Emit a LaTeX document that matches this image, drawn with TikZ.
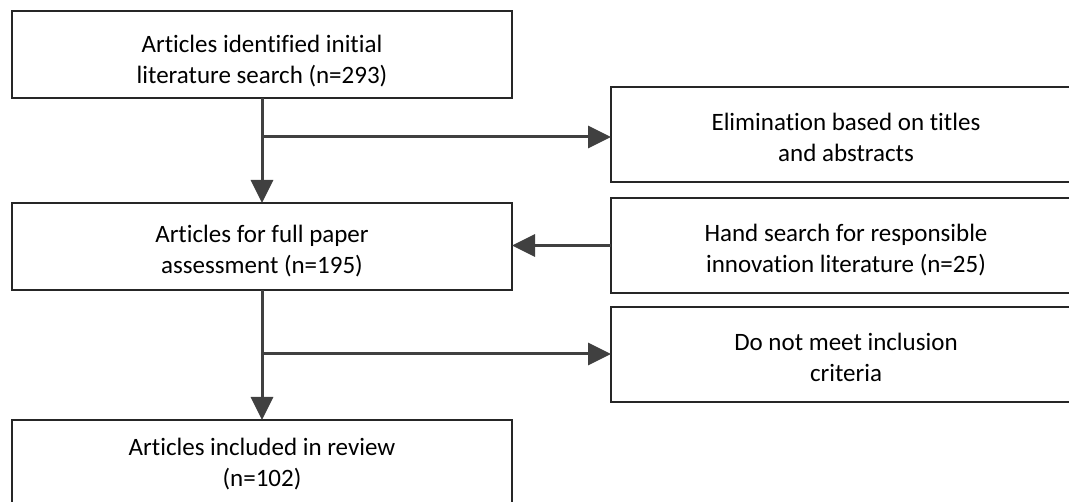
\documentclass[tikz,border=0pt]{standalone}
\usepackage{fontspec}
\setmainfont{Carlito}[Ligatures=NoCommon]
\usetikzlibrary{arrows.meta}
\definecolor{arrowgray}{HTML}{404040}
\definecolor{boxline}{HTML}{262626}
\newcommand{\lowtext}[2]{\raisebox{-#1}[\height][\depth]{\begin{tabular}{@{}c@{}}#2\end{tabular}}}
\tikzset{
  box/.style={draw=boxline, line width=2pt, fill=white, inner sep=0pt, outer sep=0pt,
    minimum width=500pt, minimum height=87pt,
    font=\fontsize{25pt}{31pt}\selectfont, text=black},
  rbox/.style={box, minimum width=470pt, minimum height=95pt},
  arr/.style={draw=arrowgray, line width=3pt, -{Triangle[length=23pt,width=22pt]}}
}
\begin{document}
\begin{tikzpicture}[x=1pt,y=-1pt]
\useasboundingbox (0,0) rectangle (1069,502);
\clip (0,0) rectangle (1069,502);
\node[box] (b1) at (262,54.5) {\lowtext{7pt}{Articles identified initial\\literature search (n=293)}};
\node[box] (b2) at (262,246.5) {\lowtext{5pt}{Articles for full paper\\assessment (n=195)}};
\node[box] (b3) at (262,463.5) {\lowtext{1pt}{Articles included in review\\(n=102)}};
\node[rbox] (ra) at (846,134.5) {\lowtext{5pt}{Elimination based on titles\\and abstracts}};
\node[rbox] (rb) at (846,245.5) {\lowtext{5pt}{Hand search for responsible\\innovation literature (n=25)}};
\node[rbox] (rc) at (846,354.5) {\lowtext{5pt}{Do not meet inclusion\\criteria}};
\coordinate (j1) at (262,137);
\coordinate (j2) at (262,354);
\draw[arr] (b1.south) -- (b2.north);
\draw[arr] (j1) -- (j1 -| ra.west);
\draw[arr] (rb.west) -- (rb.west -| b2.east);
\draw[arr] (b2.south) -- (b3.north);
\draw[arr] (j2) -- (j2 -| rc.west);
\end{tikzpicture}
\end{document}
